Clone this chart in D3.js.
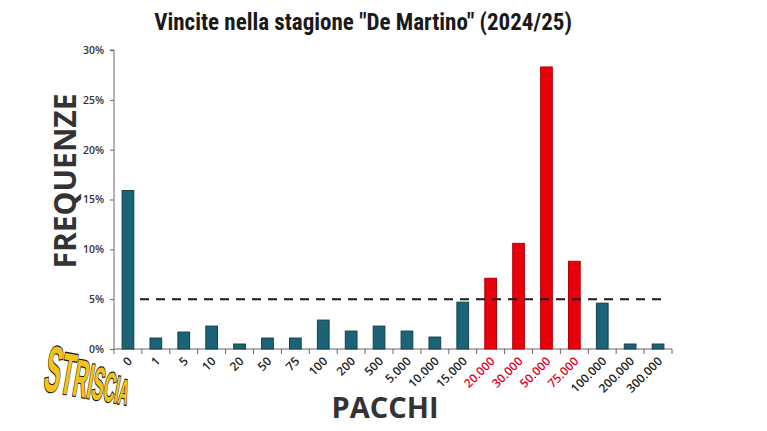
<!DOCTYPE html>
<html>
<head>
<meta charset="utf-8">
<script src="https://cdn.jsdelivr.net/npm/d3@7"></script>
<style>
  body { margin: 0; background: #fff; }
  svg { display: block; }
</style>
</head>
<body>
<div id="chart"></div>
<script>
// Data
const pacchi = ["0", "1", "5", "10", "20", "50", "75", "100", "200", "500", "5.000", "10.000",
    "15.000", "20.000", "30.000", "50.000", "75.000", "100.000", "200.000", "300.000"];
const frequenze = [15.9, 1.1, 1.7, 2.3, 0.5, 1.1, 1.1, 2.9, 1.8, 2.3, 1.8, 1.2,
    4.7, 7.1, 10.6, 28.3, 8.8, 4.6, 0.5, 0.5];
const evidenziati = ["20.000", "30.000", "50.000", "75.000"];
const yTicks = [0, 5, 10, 15, 20, 25, 30];
const soglia = 5;

// Chart setup
const W = 767, H = 431;
const margin = { top: 50, right: 95, bottom: 82, left: 114 },
    width = W - margin.left - margin.right,
    height = H - margin.top - margin.bottom;

const svg = d3.select("#chart")
    .append("svg")
    .attr("width", W)
    .attr("height", H);

const g = svg.append("g")
    .attr("transform", `translate(${margin.left},${margin.top})`);

const x = d3.scaleBand()
    .domain(pacchi)
    .range([0, width])
    .paddingInner(0.58)
    .paddingOuter(0.29);

const y = d3.scaleLinear()
    .domain([0, 30])
    .range([height, 0]);

// Title
svg.append("text")
    .attr("x", 363)
    .attr("y", 30)
    .attr("text-anchor", "middle")
    .style("font-family", "'Liberation Sans Narrow', 'Roboto Condensed', 'Liberation Sans', sans-serif")
    .style("font-weight", "bold")
    .style("font-size", "23px")
    .style("fill", "#1a1a1a")
    .text('Vincite nella stagione "De Martino" (2024/25)');

// Y axis
const yAxis = g.append("g")
    .call(d3.axisLeft(y).tickValues(yTicks).tickSize(4).tickFormat(d => d + "%"));
yAxis.select(".domain").attr("stroke", "#666").attr("d", `M-4,0H0V${height}`);
yAxis.selectAll(".tick line").attr("stroke", "#666");
yAxis.selectAll(".tick text")
    .attr("x", -10)
    .style("font-family", "'Open Sans', 'DejaVu Sans', sans-serif")
    .style("font-weight", "600")
    .style("font-size", "10.5px")
    .style("fill", "#333");

// X axis: ticks sit on the band edges
const edges = pacchi.map((d, i) => i * x.step()).concat([pacchi.length * x.step()]);
const xAxis = g.append("g")
    .attr("transform", `translate(0,${height})`);
xAxis.append("line")
    .attr("x1", 0).attr("x2", width)
    .attr("stroke", "#666");
xAxis.selectAll(".edge")
    .data(edges)
    .enter()
    .append("line")
    .attr("x1", d => d).attr("x2", d => d)
    .attr("y1", 0).attr("y2", 5)
    .attr("stroke", "#666");
xAxis.selectAll(".lbl")
    .data(pacchi)
    .enter()
    .append("text")
    .attr("text-anchor", "end")
    .attr("transform", d => `translate(${x(d) + x.bandwidth() / 2 + 5},${13}) rotate(-45)`)
    .style("font-family", "'Open Sans', 'DejaVu Sans', sans-serif")
    .style("font-weight", "600")
    .style("font-size", "12px")
    .style("fill", d => evidenziati.includes(d) ? "#e3001b" : "#222")
    .text(d => d);

// Bars
g.selectAll(".bar")
    .data(pacchi)
    .enter()
    .append("rect")
    .attr("x", d => x(d))
    .attr("y", (d, i) => y(frequenze[i]))
    .attr("width", x.bandwidth())
    .attr("height", (d, i) => height - y(frequenze[i]))
    .attr("fill", d => evidenziati.includes(d) ? "#e8000b" : "#1b6478")
    .attr("stroke", d => evidenziati.includes(d) ? "#b00008" : "#163f4b")
    .attr("stroke-width", 1);

// 5% reference line
g.append("line")
    .attr("x1", 26)
    .attr("x2", 554)
    .attr("y1", y(soglia))
    .attr("y2", y(soglia))
    .attr("stroke", "#1a1a1a")
    .attr("stroke-width", 2)
    .attr("stroke-dasharray", "9,7");

// Axis titles
svg.append("text")
    .attr("transform", "translate(76,181) rotate(-90)")
    .attr("text-anchor", "middle")
    .style("font-family", "'Open Sans', 'DejaVu Sans', sans-serif")
    .style("font-weight", "bold")
    .style("font-size", "30px")
    .style("fill", "#333")
    .text("FREQUENZE");

svg.append("text")
    .attr("x", 385)
    .attr("y", 418)
    .attr("text-anchor", "middle")
    .style("font-family", "'Open Sans', 'DejaVu Sans', sans-serif")
    .style("font-weight", "bold")
    .style("font-size", "29px")
    .style("fill", "#333")
    .text("PACCHI");

// Striscia logo
const logo = ["S", "T", "R", "I", "S", "C", "I", "A"];
const logoSize = [42, 38, 34, 32, 30, 27, 25, 23];
const logoText = svg.append("text")
    .attr("transform", "translate(42,390) rotate(10) scale(0.58,1.55)")
    .style("font-family", "'Liberation Sans Narrow', 'Liberation Sans', sans-serif")
    .style("font-weight", "bold")
    .style("fill", "#f3c316")
    .style("stroke", "#1a1a1a")
    .style("stroke-width", 1.6)
    .style("paint-order", "stroke");
logoText.selectAll("tspan")
    .data(logo)
    .enter()
    .append("tspan")
    .style("font-size", (d, i) => logoSize[i] + "px")
    .text(d => d);
</script>
</body>
</html>
